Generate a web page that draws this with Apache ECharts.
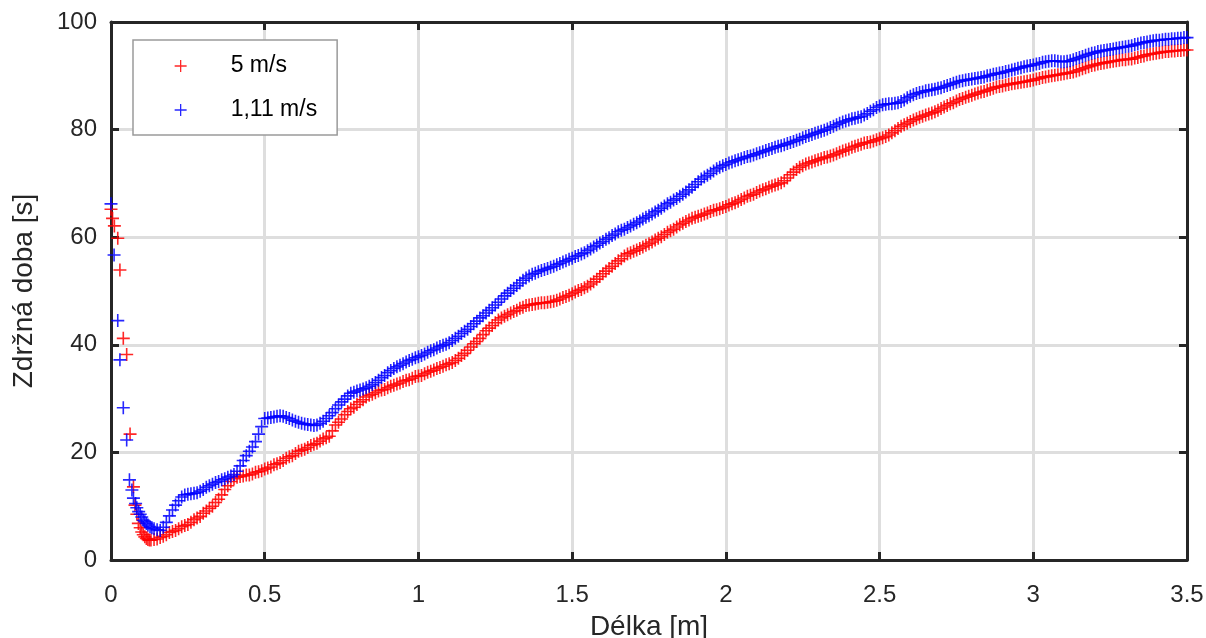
<!DOCTYPE html>
<html><head><meta charset="utf-8">
<script src="https://cdn.jsdelivr.net/npm/echarts@6/dist/echarts.min.js"></script>
<style>html,body{margin:0;padding:0;background:#fff}#c{width:1206px;height:638px}</style>
</head><body><div id="c"></div>
<script>
// ---- data ----
const seriesNames = ['5 m/s', '1,11 m/s'];
const xTicks = [0, 0.5, 1, 1.5, 2, 2.5, 3, 3.5];
const yTicks = [0, 20, 40, 60, 80, 100];

// start-up segment (x < 0.14 m)
const redStartX = [0, 0.005, 0.011, 0.022, 0.029, 0.04, 0.051, 0.062, 0.073, 0.078, 0.084, 0.089, 0.095, 0.10, 0.105, 0.11, 0.115, 0.12, 0.125, 0.13];
const redStartY = [65.2, 63.5, 62.1, 59.8, 53.9, 41.2, 38.2, 23.4, 13.6, 10.2, 8.5, 6.8, 6.0, 5.2, 4.7, 4.3, 4.0, 3.8, 3.7, 3.7];
const blueStartX = [0, 0.01, 0.022, 0.029, 0.04, 0.051, 0.06, 0.068, 0.073, 0.08, 0.084, 0.09, 0.095, 0.10, 0.105, 0.11, 0.115, 0.12, 0.127, 0.133];
const blueStartY = [66.2, 56.7, 44.5, 37.2, 28.3, 22.3, 14.9, 13.0, 11.5, 10.5, 9.7, 9.0, 8.5, 8.0, 7.4, 7.1, 6.8, 6.5, 6.2, 6.0];

// main segment lengths [m]
const lengths = [
0.14,0.15,0.16,0.17,0.18,0.19,0.20,0.21,0.22,0.23,
0.24,0.25,0.26,0.27,0.28,0.29,0.30,0.31,0.32,0.33,
0.34,0.35,0.36,0.37,0.38,0.39,0.40,0.41,0.42,0.43,
0.44,0.45,0.46,0.47,0.48,0.49,0.50,0.51,0.52,0.53,
0.54,0.55,0.56,0.57,0.58,0.59,0.60,0.61,0.62,0.63,
0.64,0.65,0.66,0.67,0.68,0.69,0.70,0.71,0.72,0.73,
0.74,0.75,0.76,0.77,0.78,0.79,0.80,0.81,0.82,0.83,
0.84,0.85,0.86,0.87,0.88,0.89,0.90,0.91,0.92,0.93,
0.94,0.95,0.96,0.97,0.98,0.99,1.00,1.01,1.02,1.03,
1.04,1.05,1.06,1.07,1.08,1.09,1.10,1.11,1.12,1.13,
1.14,1.15,1.16,1.17,1.18,1.19,1.20,1.21,1.22,1.23,
1.24,1.25,1.26,1.27,1.28,1.29,1.30,1.31,1.32,1.33,
1.34,1.35,1.36,1.37,1.38,1.39,1.40,1.41,1.42,1.43,
1.44,1.45,1.46,1.47,1.48,1.49,1.50,1.51,1.52,1.53,
1.54,1.55,1.56,1.57,1.58,1.59,1.60,1.61,1.62,1.63,
1.64,1.65,1.66,1.67,1.68,1.69,1.70,1.71,1.72,1.73,
1.74,1.75,1.76,1.77,1.78,1.79,1.80,1.81,1.82,1.83,
1.84,1.85,1.86,1.87,1.88,1.89,1.90,1.91,1.92,1.93,
1.94,1.95,1.96,1.97,1.98,1.99,2.00,2.01,2.02,2.03,
2.04,2.05,2.06,2.07,2.08,2.09,2.10,2.11,2.12,2.13,
2.14,2.15,2.16,2.17,2.18,2.19,2.20,2.21,2.22,2.23,
2.24,2.25,2.26,2.27,2.28,2.29,2.30,2.31,2.32,2.33,
2.34,2.35,2.36,2.37,2.38,2.39,2.40,2.41,2.42,2.43,
2.44,2.45,2.46,2.47,2.48,2.49,2.50,2.51,2.52,2.53,
2.54,2.55,2.56,2.57,2.58,2.59,2.60,2.61,2.62,2.63,
2.64,2.65,2.66,2.67,2.68,2.69,2.70,2.71,2.72,2.73,
2.74,2.75,2.76,2.77,2.78,2.79,2.80,2.81,2.82,2.83,
2.84,2.85,2.86,2.87,2.88,2.89,2.90,2.91,2.92,2.93,
2.94,2.95,2.96,2.97,2.98,2.99,3.00,3.01,3.02,3.03,
3.04,3.05,3.06,3.07,3.08,3.09,3.10,3.11,3.12,3.13,
3.14,3.15,3.16,3.17,3.18,3.19,3.20,3.21,3.22,3.23,
3.24,3.25,3.26,3.27,3.28,3.29,3.30,3.31,3.32,3.33,
3.34,3.35,3.36,3.37,3.38,3.39,3.40,3.41,3.42,3.43,
3.44,3.45,3.46,3.47,3.48,3.49,3.50];

const redMain = [
3.8,3.9,4.2,4.4,4.7,5.1,5.3,5.5,5.8,6.2,
6.4,6.6,7.0,7.5,7.8,8.1,8.7,9.1,9.6,10.0,
10.7,11.3,12.1,13.1,13.8,14.6,15.1,15.4,15.5,15.6,
15.8,15.8,16.0,16.3,16.4,16.6,16.9,17.1,17.3,17.7,
17.9,18.1,18.5,18.9,19.2,19.4,19.8,20.2,20.4,20.6,
20.9,21.3,21.5,21.7,22.1,22.5,22.7,23.0,24.0,25.1,
25.6,26.2,27.0,27.6,28.1,28.4,28.9,29.4,29.8,30.3,
30.6,30.8,31.1,31.4,31.6,31.7,32.0,32.3,32.5,32.7,
32.9,33.2,33.4,33.5,33.8,34.1,34.2,34.3,34.6,34.9,
35.1,35.3,35.6,35.8,36.0,36.3,36.5,36.7,37.1,37.5,
38.0,38.4,39.0,39.6,40.2,40.6,41.2,41.9,42.6,43.1,
43.6,44.1,44.6,45.0,45.3,45.6,45.9,46.2,46.4,46.8,
47.0,47.3,47.4,47.5,47.6,47.7,47.8,47.8,47.9,48.0,
48.1,48.3,48.5,48.8,49.0,49.2,49.5,49.8,50.1,50.3,
50.6,50.9,51.3,51.7,52.2,52.7,53.2,53.7,54.2,54.6,
55.1,55.6,56.0,56.5,56.9,57.1,57.4,57.6,57.9,58.2,
58.5,58.8,59.1,59.5,59.8,60.1,60.5,60.9,61.2,61.5,
61.9,62.3,62.6,62.9,63.2,63.5,63.7,63.9,64.1,64.3,
64.5,64.8,65.0,65.1,65.3,65.5,65.7,66.0,66.2,66.4,
66.7,67.0,67.3,67.6,67.8,68.0,68.3,68.6,68.8,69.0,
69.3,69.5,69.7,69.9,70.1,70.5,71.0,71.6,72.1,72.6,
73.0,73.3,73.6,73.8,74.0,74.2,74.4,74.6,74.8,74.9,
75.1,75.3,75.5,75.8,76.0,76.2,76.4,76.7,76.9,77.1,
77.3,77.5,77.6,77.7,77.9,78.1,78.3,78.5,78.7,79.0,
79.4,79.8,80.2,80.6,80.9,81.2,81.5,81.8,82.0,82.3,
82.5,82.7,82.9,83.1,83.3,83.6,83.9,84.2,84.5,84.8,
85.0,85.3,85.6,85.8,86.0,86.2,86.4,86.6,86.8,87.0,
87.1,87.3,87.5,87.7,87.9,88.0,88.1,88.3,88.4,88.5,
88.6,88.7,88.8,88.9,89.0,89.1,89.2,89.4,89.5,89.7,
89.8,89.9,90.0,90.1,90.2,90.3,90.4,90.5,90.6,90.7,
90.9,91.1,91.3,91.5,91.7,91.9,92.0,92.2,92.3,92.4,
92.5,92.6,92.7,92.8,92.9,93.0,93.0,93.1,93.1,93.3,
93.4,93.6,93.7,93.9,94.0,94.1,94.2,94.3,94.4,94.5,
94.5,94.6,94.6,94.7,94.7,94.8,94.8];

const blueMain = [
5.8,5.6,5.5,6.1,7.0,8.2,9.3,10.2,11.0,11.7,
12.1,12.2,12.3,12.4,12.5,12.8,13.1,13.5,13.8,14.1,
14.4,14.6,14.9,15.1,15.4,15.6,15.9,16.5,17.5,18.5,
19.4,20.2,21.0,22.0,23.4,24.8,26.3,26.4,26.5,26.6,
26.7,26.8,26.7,26.5,26.3,26.0,25.8,25.6,25.4,25.3,
25.2,25.1,25.0,25.1,25.4,25.8,26.3,26.8,27.4,28.1,
28.8,29.4,29.9,30.5,31.0,31.2,31.4,31.6,31.8,32.0,
32.3,32.6,33.0,33.4,33.9,34.3,34.8,35.2,35.6,35.9,
36.2,36.5,36.8,37.1,37.3,37.6,37.8,38.0,38.3,38.6,
38.9,39.1,39.4,39.7,39.9,40.1,40.4,40.8,41.2,41.6,
42.1,42.5,42.9,43.4,43.9,44.4,45.0,45.4,45.9,46.4,
46.9,47.4,47.9,48.5,49.1,49.6,50.1,50.5,51.0,51.5,
52.0,52.4,52.8,53.1,53.3,53.6,53.8,54.0,54.2,54.4,
54.6,54.9,55.1,55.4,55.6,55.9,56.1,56.4,56.6,56.9,
57.1,57.5,57.8,58.2,58.5,58.9,59.2,59.6,59.9,60.3,
60.6,61.0,61.3,61.5,61.8,62.1,62.4,62.7,63.0,63.4,
63.7,64.0,64.3,64.7,65.0,65.4,65.8,66.2,66.5,66.9,
67.2,67.6,68.0,68.4,68.8,69.3,69.8,70.3,70.8,71.2,
71.5,71.9,72.3,72.7,73.0,73.3,73.5,73.8,74.0,74.2,
74.4,74.6,74.8,75.0,75.1,75.3,75.5,75.7,75.9,76.1,
76.3,76.5,76.7,76.9,77.0,77.2,77.4,77.6,77.8,78.0,
78.2,78.5,78.7,78.9,79.1,79.3,79.5,79.7,79.9,80.1,
80.4,80.6,80.9,81.2,81.4,81.6,81.8,82.0,82.1,82.3,
82.4,82.7,83.0,83.4,83.7,84.1,84.4,84.6,84.7,84.8,
84.8,84.9,85.0,85.2,85.5,85.9,86.2,86.5,86.7,86.9,
87.0,87.2,87.3,87.4,87.5,87.7,87.8,88.0,88.2,88.4,
88.6,88.8,89.0,89.1,89.2,89.3,89.4,89.5,89.6,89.7,
89.8,90.0,90.1,90.3,90.4,90.5,90.6,90.8,90.9,91.1,
91.2,91.4,91.5,91.7,91.8,91.9,92.0,92.2,92.3,92.5,
92.6,92.7,92.8,92.8,92.7,92.6,92.6,92.7,92.8,93.0,
93.2,93.4,93.6,93.8,94.0,94.2,94.3,94.5,94.6,94.7,
94.8,94.9,95.0,95.1,95.2,95.3,95.4,95.5,95.6,95.8,
95.9,96.1,96.2,96.3,96.4,96.5,96.6,96.6,96.7,96.8,
96.8,96.9,96.9,97.0,97.0,97.1,97.1];

// ---- build ----
function zip(xs, ys) { return xs.map((x, i) => [x, ys[i]]); }
const redData = zip(redStartX, redStartY).concat(zip(lengths, redMain));
const blueData = zip(blueStartX, blueStartY).concat(zip(lengths, blueMain));

const PLUS = 'path://M5,0L5,10M0,5L10,5';
const FONT = 'Liberation Sans, Arial, Helvetica, sans-serif';
const DARK = '#262626';

const chart = echarts.init(document.getElementById('c'), null, {renderer: 'canvas'});

function baseAxis(extra) {
  return Object.assign({
    axisLine: {show: true, onZero: false, lineStyle: {color: DARK, width: 3}},
    axisTick: {show: true, inside: true, length: 8, lineStyle: {color: DARK, width: 3}},
    splitLine: {show: false},
  }, extra);
}

chart.setOption({
  animation: false,
  backgroundColor: '#fff',
  grid: {left: 111, right: 19, top: 22, bottom: 78, containLabel: false, outerBoundsMode: 'none'},
  legend: {
    left: 133, top: 40, orient: 'vertical',
    backgroundColor: '#fff', borderColor: '#9a9a9a', borderWidth: 1.5,
    padding: [13, 20, 12, 41],
    itemWidth: 12, itemHeight: 12, itemGap: 18,
    selectedMode: false,
    textStyle: {fontFamily: FONT, fontSize: 23, color: '#000', lineHeight: 26, padding: [0, 0, 0, 39]},
    data: [
      {name: seriesNames[0], icon: PLUS, itemStyle: {color: 'rgba(0,0,0,0)', borderColor: '#ff0000', borderWidth: 1.3}},
      {name: seriesNames[1], icon: PLUS, itemStyle: {color: 'rgba(0,0,0,0)', borderColor: '#0000ff', borderWidth: 1.3}}
    ]
  },
  xAxis: [
    baseAxis({
      type: 'value', position: 'bottom', min: xTicks[0], max: xTicks[xTicks.length - 1], interval: 0.5,
      name: 'Délka [m]', nameLocation: 'middle', nameGap: 53,
      nameTextStyle: {fontFamily: FONT, fontSize: 28, color: DARK},
      axisLabel: {fontFamily: FONT, fontSize: 24, color: DARK, margin: 23,
        formatter: v => String(v)},
      splitLine: {show: true, lineStyle: {color: '#dedede', width: 3}}
    }),
    baseAxis({
      type: 'value', position: 'top', min: xTicks[0], max: xTicks[xTicks.length - 1], interval: 0.5,
      axisLabel: {show: false}
    })
  ],
  yAxis: [
    baseAxis({
      type: 'value', position: 'left', min: yTicks[0], max: yTicks[yTicks.length - 1], interval: 20,
      name: 'Zdržná doba [s]', nameLocation: 'middle', nameGap: 73,
      nameTextStyle: {fontFamily: FONT, fontSize: 28, color: DARK},
      axisLabel: {fontFamily: FONT, fontSize: 24, color: DARK, margin: 14},
      splitLine: {show: true, lineStyle: {color: '#dedede', width: 3}}
    }),
    baseAxis({
      type: 'value', position: 'right', min: yTicks[0], max: yTicks[yTicks.length - 1], interval: 20,
      axisLabel: {show: false}
    })
  ],
  series: [
    {
      name: seriesNames[0], type: 'scatter', xAxisIndex: 0, yAxisIndex: 0,
      symbol: PLUS, symbolSize: 13, data: redData,
      itemStyle: {color: 'rgba(0,0,0,0)', borderColor: '#ff0000', borderWidth: 1.6, opacity: 0.85},
      emphasis: {disabled: true}, z: 3
    },
    {
      name: seriesNames[1], type: 'scatter', xAxisIndex: 0, yAxisIndex: 0,
      symbol: PLUS, symbolSize: 13, data: blueData,
      itemStyle: {color: 'rgba(0,0,0,0)', borderColor: '#0000ff', borderWidth: 1.6, opacity: 0.85},
      emphasis: {disabled: true}, z: 4
    }
  ]
});
</script>
</body></html>
